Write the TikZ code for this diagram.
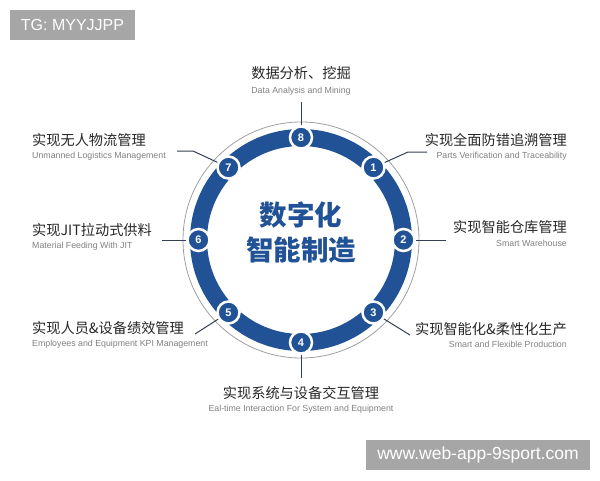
\documentclass[tikz,border=0pt]{standalone}
\usepackage{fontspec}
\setmainfont{Liberation Sans}
\newfontfamily\cjk{Noto Sans CJK SC}
\usetikzlibrary{positioning,calc}
\definecolor{ringblue}{RGB}{33,82,150}
\definecolor{leadgray}{RGB}{52,64,84}
\definecolor{wmgray}{RGB}{166,166,166}

\tikzset{
  numdot/.style={circle, fill=ringblue, draw=white, line width=2.5pt, inner sep=0pt,
    minimum size=22pt, text=white, font=\bfseries\fontsize{11}{11}\selectfont},
  cntitle/.style={inner sep=0pt, text=black!85, font=\cjk\fontsize{14.2}{14.2}\selectfont},
  entitle/.style={inner sep=0pt, text=black!50, font=\fontsize{8.8}{8.8}\selectfont},
  lead/.style={leadgray, line width=1pt},
  wmbox/.style={fill=wmgray, text=white, inner sep=0pt, font=\fontsize{16}{16}\selectfont}
}

\begin{document}
\begin{tikzpicture}[x=1pt, y=-1pt]
  \useasboundingbox (0,0) rectangle (600,480);

  % Rings
  \coordinate (c) at (301,240);
  \draw[gray!75, line width=0.8pt] (c) circle (118);
  \draw[ringblue, line width=17pt] (c) circle (102.5);

  % Numbered points
  \foreach \i/\a in {1/-45,2/0,3/45,4/90,5/135,6/180,7/225,8/-90}
    \node[numdot] (n\i) at ($(c)+(\a:102.5)$) {\i};

  % Centre text
  \node[inner sep=0pt, text=ringblue, font=\cjk\bfseries\fontsize{27.5}{27.5}\selectfont] (mid1) at (301,215) {数字化};
  \node[inner sep=0pt, text=ringblue, font=\cjk\bfseries\fontsize{27.5}{27.5}\selectfont] (mid2) at (301,250) {智能制造};

  % Labels
  \node[cntitle] (t8) at (301,73) {数据分析、挖掘};
  \node[entitle] (e8) at (301,91) {Data Analysis and Mining};
  \node[cntitle, anchor=east] (t1) at (567,140) {实现全面防错追溯管理};
  \node[entitle, anchor=east] (e1) at (567,156) {Parts Verification and Traceability};
  \node[cntitle, anchor=east] (t2) at (567,227) {实现智能仓库管理};
  \node[entitle, anchor=east] (e2) at (567,243) {Smart Warehouse};
  \node[cntitle, anchor=east] (t3) at (567,329) {实现智能化\&柔性化生产};
  \node[entitle, anchor=east] (e3) at (567,344) {Smart and Flexible Production};
  \node[cntitle] (t4) at (301,393) {实现系统与设备交互管理};
  \node[entitle] (e4) at (301,409) {Eal-time Interaction For System and Equipment};
  \node[cntitle, anchor=west] (t5) at (32,328) {实现人员\&设备绩效管理};
  \node[entitle, anchor=west] (e5) at (32,344) {Employees and Equipment KPI Management};
  \node[cntitle, anchor=west] (t6) at (32,230) {实现JIT拉动式供料};
  \node[entitle, anchor=west] (e6) at (32,246) {Material Feeding With JIT};
  \node[cntitle, anchor=west] (t7) at (32,140) {实现无人物流管理};
  \node[entitle, anchor=west] (e7) at (32,156) {Unmanned Logistics Management};

  % Leader lines
  \coordinate (k1) at (408,152);
  \coordinate (f1) at (427,152);
  \coordinate (f2) at (446,240);
  \coordinate (f3) at (410,335);
  \coordinate (f4) at (301,378);
  \coordinate (f5) at (195,334);
  \coordinate (f6) at (162,240);
  \coordinate (k7) at (193,151);
  \coordinate (f7) at (177,151);
  \coordinate (f8) at (301,102);
  \draw[lead] (n1) -- (k1) -- (f1);
  \draw[lead] (n2) -- (f2);
  \draw[lead] (n3) -- (f3);
  \draw[lead] (n4) -- (f4);
  \draw[lead] (n5) -- (f5);
  \draw[lead] (n6) -- (f6);
  \draw[lead] (n7) -- (k7) -- (f7);
  \draw[lead] (n8) -- (f8);

  % Watermarks
  \node[wmbox, minimum width=125pt, minimum height=30pt] (wm1) at (72.5,25) {TG: MYYJJPP};
  \node[wmbox, minimum width=224pt, minimum height=30pt, font=\fontsize{17.5}{17.5}\selectfont] (wm2) at (478,455) {www.web-app-9sport.com};
\end{tikzpicture}
\end{document}
